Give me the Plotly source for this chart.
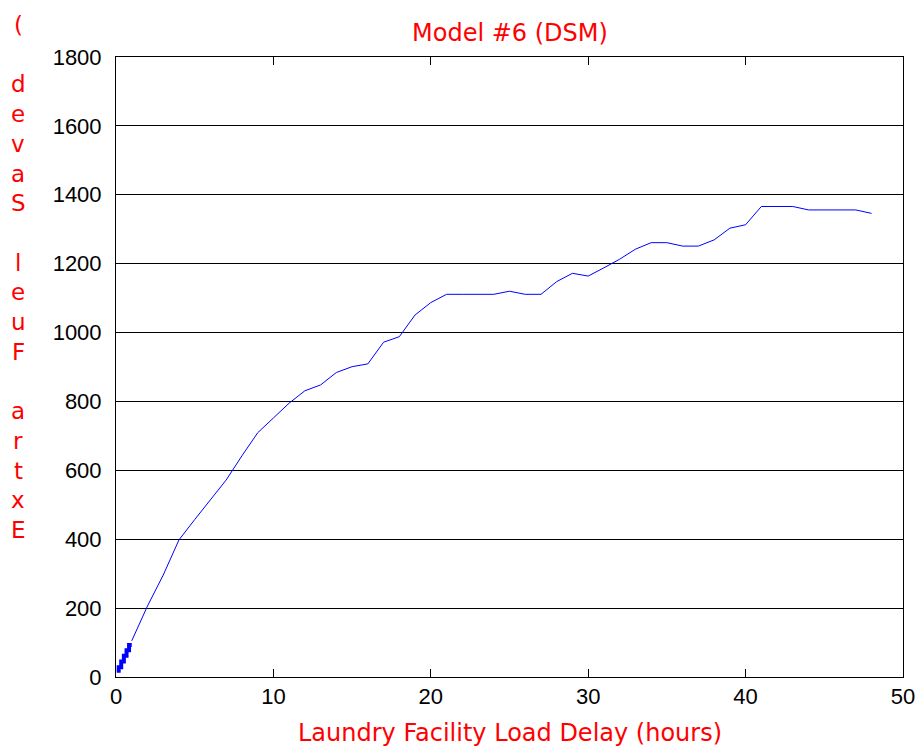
import plotly.graph_objects as go

# Sub-hour (thick) segment
fine_hours = [0.17, 0.33, 0.5, 0.67, 0.83, 1.0]
fine_saved = [12, 28, 45, 62, 78, 93]

# Hourly series
hours = list(range(1, 49))
saved = [105, 206, 296, 398, 457, 514, 572, 642, 709, 752,
         795, 831, 848, 884, 901, 909, 972, 988, 1051, 1087,
         1111, 1111, 1111, 1111, 1120, 1111, 1111, 1148, 1172, 1164,
         1188, 1213, 1242, 1261, 1261, 1251, 1251, 1269, 1303, 1313,
         1366, 1366, 1366, 1356, 1356, 1356, 1356, 1346]

x_ticks = [0, 10, 20, 30, 40, 50]
y_ticks = [0, 200, 400, 600, 800, 1000, 1200, 1400, 1600, 1800]

title_text = "Model #6 (DSM)"
x_label = "Laundry Facility Load Delay (hours)"
y_label = "Extra Fuel Saved ("

TICK_FONT = "Liberation Sans"
RED_FONT = "DejaVu Sans"
RED = "#ff0000"

fig = go.Figure()
fig.add_trace(go.Scatter(x=fine_hours, y=fine_saved, mode="lines",
                         line=dict(color="#0000ff", width=4, shape="vh"),
                         showlegend=False, hoverinfo="skip"))
fig.add_trace(go.Scatter(x=hours, y=saved, mode="lines",
                         line=dict(color="#0000ff", width=1),
                         showlegend=False))

# body margin removed via post_script, so the figure fills the window exactly
W, H = 919, 747
L, R, T, B = 116, 16, 57, 70
plot_w = W - L - R
plot_h = H - T - B

annotations = []
annotations.append(dict(text=title_text, xref="paper", yref="paper",
                        x=0.5, y=1 + 24 / plot_h, xanchor="center", yanchor="middle",
                        showarrow=False, font=dict(family=RED_FONT, size=24, color=RED)))
annotations.append(dict(text=x_label, xref="paper", yref="paper",
                        x=0.5, y=-56 / plot_h, xanchor="center", yanchor="middle",
                        showarrow=False, font=dict(family=RED_FONT, size=24, color=RED)))
chars = list(reversed(y_label))
top_px, step_px = 25, 29.7
for i, ch in enumerate(chars):
    if ch == " ":
        continue
    py = top_px + i * step_px
    annotations.append(dict(text=ch, xref="paper", yref="paper",
                            x=(18 - L) / plot_w, y=(H - B - py) / plot_h,
                            xanchor="center", yanchor="middle", showarrow=False,
                            font=dict(family=RED_FONT, size=23, color=RED)))

fig.update_layout(
    width=W, height=H,
    margin=dict(l=L, r=R, t=T, b=B, autoexpand=False),
    paper_bgcolor="white", plot_bgcolor="white",
    annotations=annotations,
    font=dict(family=TICK_FONT, size=22, color="black"),
)
fig.update_xaxes(range=[0, 50], tickvals=x_ticks, ticks="inside", ticklen=8,
                 tickcolor="black", showgrid=False, zeroline=False,
                 showline=True, linecolor="black", linewidth=1, mirror="ticks",
                 automargin=False, ticklabeloverflow="allow",
                 tickfont=dict(family=TICK_FONT, size=22))
fig.update_yaxes(range=[0, 1800], tickvals=y_ticks, ticks="inside", ticklen=6,
                 tickcolor="black", showgrid=True, gridcolor="black", gridwidth=1,
                 zeroline=False, showline=True, linecolor="black", linewidth=1,
                 mirror="ticks", ticklabelstandoff=9, automargin=False,
                 tickfont=dict(family=TICK_FONT, size=22))

fig.write_html("out.html",
               config={"displayModeBar": False},
               post_script="document.body.style.margin='0';"
                           "document.documentElement.style.overflow='hidden';")
